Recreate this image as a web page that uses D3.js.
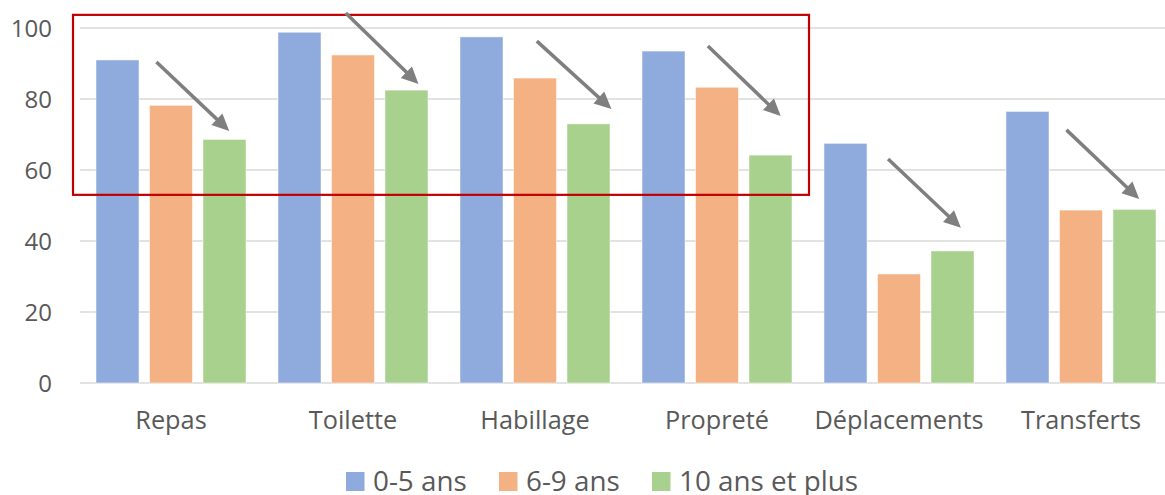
<!DOCTYPE html>
<html><head><meta charset="utf-8">
<script src="https://cdn.jsdelivr.net/npm/d3@7"></script>
<style>body{margin:0;background:#fff}svg{display:block;font-family:"Open Sans",sans-serif}</style>
</head><body><svg id="c" width="1165" height="495"></svg>
<script>
const categories = ["Repas","Toilette","Habillage","Propreté","Déplacements","Transferts"];
const seriesNames = ["0-5 ans","6-9 ans","10 ans et plus"];
const s0_5 = [91.0, 98.8, 97.5, 93.5, 67.5, 76.5];
const s6_9 = [78.2, 92.4, 85.9, 83.3, 30.7, 48.7];
const s10p = [68.6, 82.5, 73.0, 64.2, 37.2, 48.9];
const colors = ["#8faadc","#f4b183","#a9d18e"];
const yTicks = [0,20,40,60,80,100];
// trend arrows (data units: start value, end value; x as fraction of category step)
const arrowStartVal = [90.4, 104.2, 96.3, 94.9, 63.1, 71.3];
const arrowEndVal   = [71.0, 84.2, 77.2, 75.2, 43.7, 51.8];
const arrowStartFx  = [0.42, 0.46, 0.51, 0.45, 0.44, 0.42];
const arrowEndFx    = [0.82, 0.86, 0.92, 0.85, 0.84, 0.82];
// highlight box: categories 0..3, value range
const boxCats = [0, 3];
const boxVals = [53.0, 103.7];

(function(){
const svg = d3.select("#c");
const mLeft = 80, mRight = 1172, mTop = 28, mBottom = 383;
const x = d3.scaleBand().domain(categories).range([mLeft, mRight]).paddingInner(32/182).paddingOuter(16/182);
const xs = d3.scaleBand().domain(d3.range(3)).range([0, x.bandwidth()]).paddingInner(0.196);
const y = d3.scaleLinear().domain([0,100]).range([mBottom, mTop]);
const step = x.step();
const catStart = c => x(c) - x.paddingInner()*step/2;

// gridlines
svg.append("g").selectAll("line").data(yTicks).join("line")
  .attr("x1", mLeft).attr("x2", 1165).attr("y1", d=>y(d)).attr("y2", d=>y(d))
  .attr("stroke", "#d9d9d9").attr("stroke-width", 1.5);

// y labels
svg.append("g").selectAll("text").data(yTicks).join("text")
  .attr("x", 52).attr("y", d=>y(d)).attr("dy","0.36em").attr("text-anchor","end")
  .attr("fill","#595959").attr("font-size", 24).text(d=>d);

// bars
const series = [s0_5, s6_9, s10p];
series.forEach((vals, si) => {
  svg.append("g").selectAll("rect").data(vals).join("rect")
    .attr("x", (d,i)=>x(categories[i]) + xs(si))
    .attr("width", xs.bandwidth())
    .attr("y", d=>y(d)).attr("height", d=>y(0)-y(d))
    .attr("fill", colors[si]).attr("stroke","#fff").attr("stroke-opacity",0.5).attr("stroke-width",1);
});

// category labels
svg.append("g").selectAll("text").data(categories).join("text")
  .attr("x", d=>x(d)+x.bandwidth()/2).attr("y", 429).attr("text-anchor","middle")
  .attr("fill","#595959").attr("font-size", 25.3).text(d=>d);

// highlight box
const bx0 = catStart(categories[boxCats[0]]) - 7;
const bx1 = catStart(categories[boxCats[1]]) + step + 1;
svg.append("rect").attr("x", bx0).attr("y", y(boxVals[1])).attr("width", bx1-bx0)
  .attr("height", y(boxVals[0]) - y(boxVals[1])).attr("fill","none")
  .attr("stroke","#c00000").attr("stroke-width",2.2);

// arrows
const ag = svg.append("g");
categories.forEach((c,i) => {
  const x1 = catStart(c) + arrowStartFx[i]*step, y1 = y(arrowStartVal[i]);
  const x2 = catStart(c) + arrowEndFx[i]*step, y2 = y(arrowEndVal[i]);
  const ang = Math.atan2(y2-y1, x2-x1);
  const L = 17, W = 8;
  const bxp = x2 - L*Math.cos(ang), byp = y2 - L*Math.sin(ang);
  ag.append("line").attr("x1",x1).attr("y1",y1).attr("x2",bxp+2*Math.cos(ang)).attr("y2",byp+2*Math.sin(ang))
    .attr("stroke","#7f7f7f").attr("stroke-width",3.5);
  const pts = [[x2,y2],[bxp - W*Math.sin(ang), byp + W*Math.cos(ang)],[bxp + W*Math.sin(ang), byp - W*Math.cos(ang)]];
  ag.append("polygon").attr("points", pts.map(p=>p.join(",")).join(" ")).attr("fill","#7f7f7f");
});

// legend
const legX = [346, 499, 652];
const lg = svg.append("g");
seriesNames.forEach((n,i)=>{
  lg.append("rect").attr("x", legX[i]).attr("y", 472).attr("width",18.5).attr("height",19).attr("fill",colors[i]);
  lg.append("text").attr("x", legX[i]+27).attr("y", 491).attr("fill","#595959").attr("font-size",27.8).text(n);
});
})();
</script></body></html>
